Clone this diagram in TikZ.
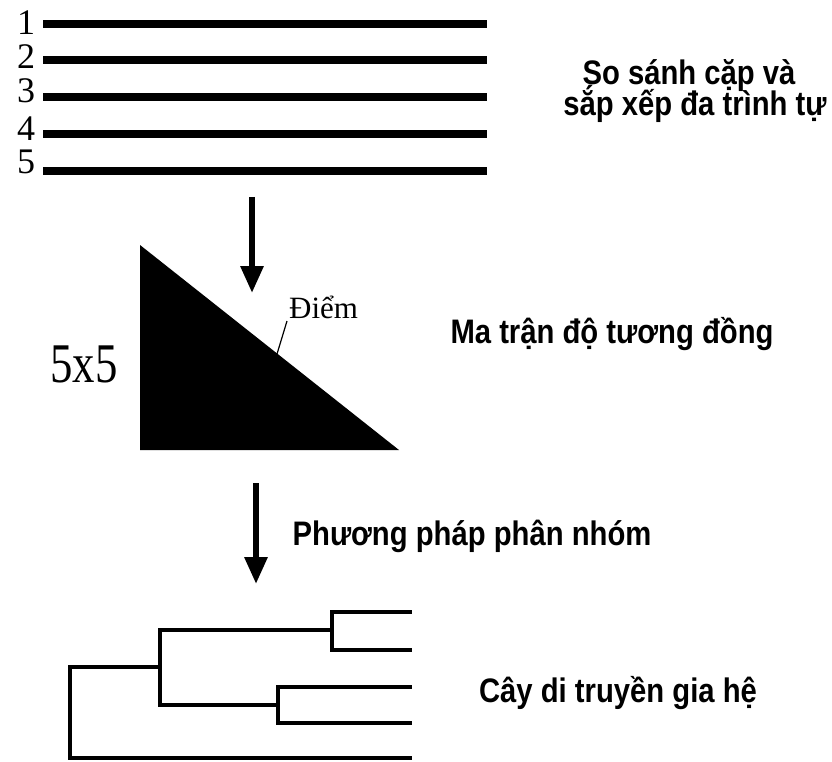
\documentclass[tikz,border=0pt]{standalone}
\usepackage{fontspec}
\setmainfont{Liberation Serif}
\setsansfont{Liberation Sans}
\usetikzlibrary{arrows.meta}
\newcommand{\capscale}[1]{\scalebox{0.86}[1]{#1}}
\begin{document}
\begin{tikzpicture}[x=1pt,y=-1pt,
  seqline/.style={line width=8pt},
  treeline/.style={line width=4pt, line cap=rect, line join=miter},
  bigarrow/.style={line width=6pt, -{Triangle[length=27pt,width=22pt]}},
  numlbl/.style={font=\fontsize{36}{36}\selectfont, inner sep=0, anchor=base},
  caption/.style={font=\sffamily\bfseries\fontsize{34}{34}\selectfont, inner sep=0, anchor=base},
]
\useasboundingbox (0,0) rectangle (832,762);
% sequences
\foreach \i/\y/\b in {1/24/35,2/60/69,3/97/103,4/134/141,5/171/174}{
  \coordinate (s\i a) at (43,\y);
  \coordinate (s\i b) at (487,\y);
  \draw[seqline] (s\i a) -- (s\i b);
  \node[numlbl] (n\i) at (26,\b) {\i};
}
\node[caption] (t1a) at (689,85) {\capscale{So sánh cặp và}};
\node[caption] (t1b) at (695,116) {\capscale{sắp xếp đa trình tự}};
% arrow 1
\coordinate (a1s) at (252,197);
\coordinate (a1e) at (252,293);
\draw[bigarrow] (a1s) -- (a1e);
% triangle
\coordinate (tA) at (140,245);
\coordinate (tB) at (140,450);
\coordinate (tC) at (399,450);
\fill (tA) -- (tB) -- (tC) -- cycle;
\node[font=\fontsize{31}{31}\selectfont, inner sep=0, anchor=base west] (diem) at (289,318) {Điểm};
\coordinate (lp1) at (287,321);
\coordinate (lp2) at (277,354);
\draw[line width=1.2pt] (lp1) -- (lp2);
\node[font=\fontsize{56}{56}\selectfont, inner sep=0, anchor=base] (five) at (84,382) {\scalebox{0.8}[1]{5x5}};
\node[caption] (t2) at (612,343) {\capscale{Ma trận độ tương đồng}};
% arrow 2
\coordinate (a2s) at (256,483);
\coordinate (a2e) at (256,584);
\draw[bigarrow] (a2s) -- (a2e);
\node[caption] (t3) at (472,545) {\capscale{Phương pháp phân nhóm}};
% tree
\coordinate (r) at (70,667);
\coordinate (rb) at (70,758);
\coordinate (i1) at (160,667);
\coordinate (i1t) at (160,630);
\coordinate (i1b) at (160,705);
\coordinate (i2) at (332,630);
\coordinate (i3) at (278,705);
\draw[treeline] (i1) -- (r) -- (rb) -- (410,758);
\draw[treeline] (i2) -- (i1t) -- (i1b) -- (i3);
\draw[treeline] (410,612) -- (332,612) -- (332,650) -- (410,650);
\draw[treeline] (410,687) -- (278,687) -- (278,723) -- (410,723);
\node[caption] (t4) at (618,702) {\capscale{Cây di truyền gia hệ}};
\end{tikzpicture}
\end{document}
